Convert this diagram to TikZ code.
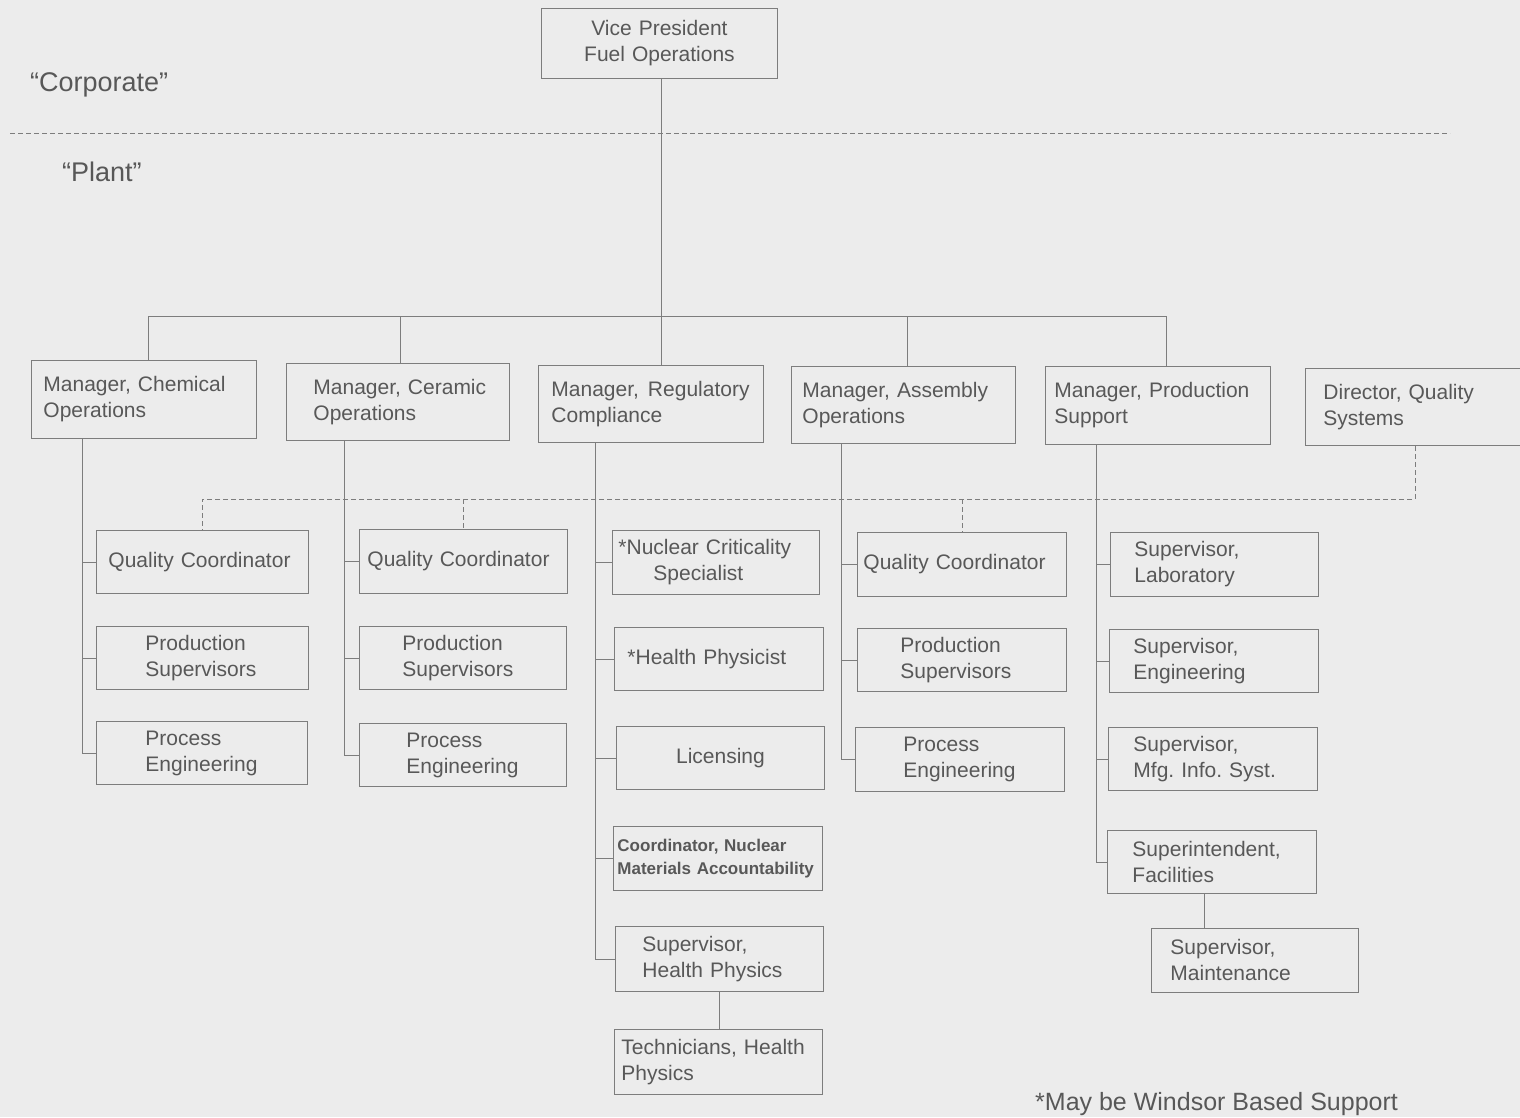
\documentclass[tikz,border=0pt]{standalone}
\usepackage{fontspec}
\setmainfont{Liberation Sans}
\definecolor{txtc}{RGB}{88,88,88}
\definecolor{linec}{RGB}{125,125,125}
\definecolor{bgc}{RGB}{236,236,236}
\frenchspacing
\begin{document}
\begin{tikzpicture}[x=1pt,y=-1pt,
  bx/.style={draw=linec, line width=0.9pt, rectangle, inner ysep=0pt, anchor=north west,
     text=txtc, align=left, font=\fontsize{21}{26}\selectfont\frenchspacing},
  ln/.style={draw=linec, line width=0.9pt},
  dsh/.style={draw=linec, line width=0.9pt, dash pattern=on 5pt off 3pt},
  lbl/.style={text=txtc, inner sep=0pt}]
\fill[bgc] (0,0) rectangle (1520,1117);
\useasboundingbox (0,0) rectangle (1520,1117);

% top
\node[bx, align=center, minimum height=70pt, inner xsep=8pt, text width=220pt] (vp) at (541,8) {Vice President\\Fuel Operations};
\node[lbl, anchor=west, font=\fontsize{27}{30}\selectfont] (corp) at (30,85) {“Corporate”};
\node[lbl, anchor=west, font=\fontsize{27}{30}\selectfont] (plant) at (62,172) {“Plant”};
\coordinate (divL) at (10,133);
\coordinate (divR) at (1450,133);
\draw[dsh] (divL) -- (divR);

% managers
\node[bx, minimum height=78pt, inner xsep=12pt, text width=201pt] (chem) at (31,360) {\mbox{Manager, Chemical}\\Operations};
\node[bx, minimum height=77pt, inner xsep=27pt, text width=169pt] (cer) at (286,363) {\mbox{Manager, Ceramic}\\Operations};
\node[bx, minimum height=77pt, inner xsep=13pt, text width=199pt] (reg) at (538,365) {\mbox{Manager,\hspace{9pt}Regulatory}\\Compliance};
\node[bx, minimum height=77pt, inner xsep=11pt, text width=202pt] (asm) at (791,366) {\mbox{Manager, Assembly}\\Operations};
\node[bx, minimum height=78pt, inner xsep=9pt, text width=207pt] (ps) at (1045,366) {\mbox{Manager, Production}\\Support};
\node[bx, minimum height=77pt, inner xsep=18pt, text width=183pt] (dir) at (1305,368) {\mbox{Director, Quality}\\Systems};

% column 1
\node[bx, minimum height=63pt, inner xsep=12pt, text width=188pt] (qc1) at (96,530) {Quality Coordinator};
\node[bx, minimum height=63pt, inner xsep=49pt, text width=114pt] (ps1) at (96,626) {Production\\Supervisors};
\node[bx, minimum height=63pt, inner xsep=49pt, text width=113pt] (pe1) at (96,721) {Process\\Engineering};
% column 2
\node[bx, minimum height=64pt, inner xsep=8pt, text width=192pt] (qc2) at (359,529) {Quality Coordinator};
\node[bx, minimum height=63pt, inner xsep=43pt, text width=121pt] (ps2) at (359,626) {Production\\Supervisors};
\node[bx, minimum height=63pt, inner xsep=47pt, text width=113pt] (pe2) at (359,723) {Process\\Engineering};
% column 3
\node[bx, minimum height=64pt, inner xsep=6pt, text width=195pt] (ncs) at (612,530) {*Nuclear Criticality\\\hspace*{35pt}Specialist};
\node[bx, minimum height=63pt, inner xsep=13pt, text width=183pt] (hp) at (614,627) {*Health Physicist};
\node[bx, minimum height=63pt, inner xsep=8pt, text width=192pt, align=center] (lic) at (616,726) {Licensing};
\node[bx, minimum height=64pt, inner xsep=4pt, text width=201pt, font=\fontsize{17}{23}\selectfont\bfseries] (nma) at (613,826) {\mbox{Coordinator, Nuclear}\\\mbox{Materials Accountability}};
\node[bx, minimum height=65pt, inner xsep=27pt, text width=154pt] (shp) at (615,926) {Supervisor,\\Health Physics};
\node[bx, minimum height=65pt, inner xsep=7pt, text width=194pt] (thp) at (614,1029) {\mbox{Technicians, Health}\\Physics};
% column 4
\node[bx, minimum height=64pt, inner xsep=6pt, text width=197pt] (qc3) at (857,532) {Quality Coordinator};
\node[bx, minimum height=63pt, inner xsep=43pt, text width=123pt] (ps3) at (857,628) {Production\\Supervisors};
\node[bx, minimum height=64pt, inner xsep=48pt, text width=113pt] (pe3) at (855,727) {Process\\Engineering};
% column 5
\node[bx, minimum height=64pt, inner xsep=24pt, text width=160pt] (lab) at (1110,532) {Supervisor,\\Laboratory};
\node[bx, minimum height=63pt, inner xsep=24pt, text width=161pt] (eng) at (1109,629) {Supervisor,\\Engineering};
\node[bx, minimum height=63pt, inner xsep=25pt, text width=159pt] (mis) at (1108,727) {Supervisor,\\\mbox{Mfg. Info. Syst.}};
\node[bx, minimum height=63pt, inner xsep=25pt, text width=159pt] (fac) at (1107,830) {Superintendent,\\Facilities};
\node[bx, minimum height=64pt, inner xsep=19pt, text width=169pt] (mnt) at (1151,928) {Supervisor,\\Maintenance};

\node[lbl, anchor=west, font=\fontsize{25}{28}\selectfont] (note) at (1035,1104) {*May be Windsor Based Support};

% top connectors
\coordinate (b1) at (148,316);
\coordinate (b2) at (400,316);
\coordinate (b3) at (661,316);
\coordinate (b4) at (907,316);
\coordinate (b5) at (1166,316);
\draw[ln] (b3 |- vp.south) -- (b3 |- reg.north);
\draw[ln] (b1 |- chem.north) -- (b1) -- (b5) -- (b5 |- ps.north);
\draw[ln] (b2) -- (b2 |- cer.north);
\draw[ln] (b4) -- (b4 |- asm.north);

% spines
\coordinate (s1) at (82,0);
\coordinate (s2) at (344,0);
\coordinate (s3) at (595,0);
\coordinate (s4) at (841,0);
\coordinate (s5) at (1096,0);
\draw[ln] (s1 |- chem.south) |- (pe1.west);
\draw[ln] (s1 |- qc1.west) -- (qc1.west);
\draw[ln] (s1 |- ps1.west) -- (ps1.west);
\draw[ln] (s2 |- cer.south) |- (pe2.west);
\draw[ln] (s2 |- qc2.west) -- (qc2.west);
\draw[ln] (s2 |- ps2.west) -- (ps2.west);
\draw[ln] (s3 |- reg.south) |- (shp.west);
\draw[ln] (s3 |- ncs.west) -- (ncs.west);
\draw[ln] (s3 |- hp.west) -- (hp.west);
\draw[ln] (s3 |- lic.west) -- (lic.west);
\draw[ln] (s3 |- nma.west) -- (nma.west);
\draw[ln] (s4 |- asm.south) |- (pe3.west);
\draw[ln] (s4 |- qc3.west) -- (qc3.west);
\draw[ln] (s4 |- ps3.west) -- (ps3.west);
\draw[ln] (s5 |- ps.south) |- (fac.west);
\draw[ln] (s5 |- lab.west) -- (lab.west);
\draw[ln] (s5 |- eng.west) -- (eng.west);
\draw[ln] (s5 |- mis.west) -- (mis.west);
\coordinate (h1) at (719,0);
\draw[ln] (h1 |- shp.south) -- (h1 |- thp.north);
\coordinate (m1) at (1204,0);
\draw[ln] (m1 |- fac.south) -- (m1 |- mnt.north);

% dashed quality lines
\coordinate (dq) at (0,499);
\draw[dsh] (dir.south) -- (dir.south |- dq) -- (qc1.north |- dq) -- (qc1.north);
\draw[dsh] (qc2.north |- dq) -- (qc2.north);
\draw[dsh] (qc3.north |- dq) -- (qc3.north);
\end{tikzpicture}
\end{document}
